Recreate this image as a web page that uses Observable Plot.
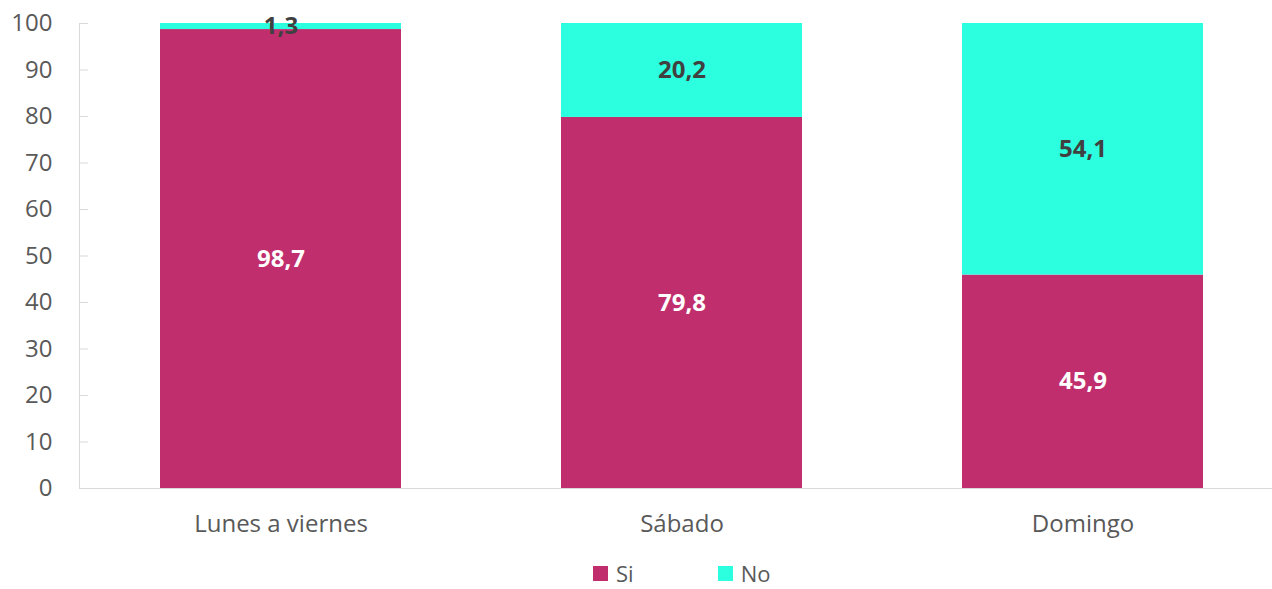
<!DOCTYPE html>
<html>
<head>
<meta charset="utf-8">
<script src="https://cdn.jsdelivr.net/npm/d3@7"></script>
<script src="https://cdn.jsdelivr.net/npm/@observablehq/plot@0.6"></script>
<style>
  body { margin: 0; background: #fff; font-family: "Open Sans", sans-serif; }
  #wrap { position: relative; width: 1272px; height: 589px; overflow: hidden; }
  #legend { position: absolute; left: 593px; top: 563px; display: flex; align-items: center; font-size: 22px; line-height: 20px; color: #595959; }
  .item { display: flex; align-items: center; }
  .sw { width: 15px; height: 15px; margin-right: 8px; }
</style>
</head>
<body>
<div id="wrap">
  <div id="chart"></div>
  <div id="legend"></div>
</div>
<script>
const days = ["Lunes a viernes", "Sábado", "Domingo"];
const categories = ["Si", "No"];
const siValues = [98.7, 79.8, 45.9];
const noValues = [1.3, 20.2, 54.1];
const yTicks = [0, 10, 20, 30, 40, 50, 60, 70, 80, 90, 100];
const colors = ["#C02E6E", "#2CFFE0"];

const data = [];
days.forEach((d, i) => {
  data.push({day: d, cat: "Si", value: siValues[i]});
  data.push({day: d, cat: "No", value: noValues[i]});
});
const fmt = v => v.toFixed(1).replace(".", ",");

const chart = Plot.plot({
  width: 1272,
  height: 555,
  marginTop: 23,
  marginBottom: 67,
  marginLeft: 79,
  marginRight: 0,
  style: {fontFamily: "Open Sans, sans-serif", background: "#fff"},
  x: {domain: days, range: [79, 1283.5], paddingInner: 0.4, paddingOuter: 0.2, label: null},
  y: {domain: [0, 100], label: null},
  color: {domain: categories, range: colors},
  marks: [
    Plot.barY(data, {x: "day", y: "value", fill: "cat", order: categories}),
    Plot.ruleY([0], {stroke: "#d9d9d9", strokeWidth: 1}),
    Plot.frame({anchor: "left", stroke: "#d9d9d9"}),
    Plot.axisY({ticks: yTicks, tickSize: 9, dx: 9, text: null, stroke: "#d9d9d9", label: null}),
    Plot.axisY({ticks: yTicks, tickSize: 0, tickPadding: 27, fontSize: 24, fill: "#595959", label: null}),
    Plot.axisX({tickSize: 0, tickPadding: 26, fontSize: 24, fill: "#595959", label: null}),
    Plot.text(data, Plot.stackY({
      x: "day", y: "value", z: "cat", order: categories,
      text: d => fmt(d.value),
      fill: d => d.cat === "Si" ? "#ffffff" : "#404040",
      fontSize: 24, fontWeight: "bold"
    }))
  ]
});
document.getElementById("chart").appendChild(chart);

const legend = document.getElementById("legend");
categories.forEach((c, i) => {
  const it = document.createElement("div");
  it.className = "item";
  if (i > 0) it.style.marginLeft = "84px";
  it.innerHTML = `<span class="sw" style="background:${colors[i]}"></span><span>${c}</span>`;
  legend.appendChild(it);
});
</script>
</body>
</html>
